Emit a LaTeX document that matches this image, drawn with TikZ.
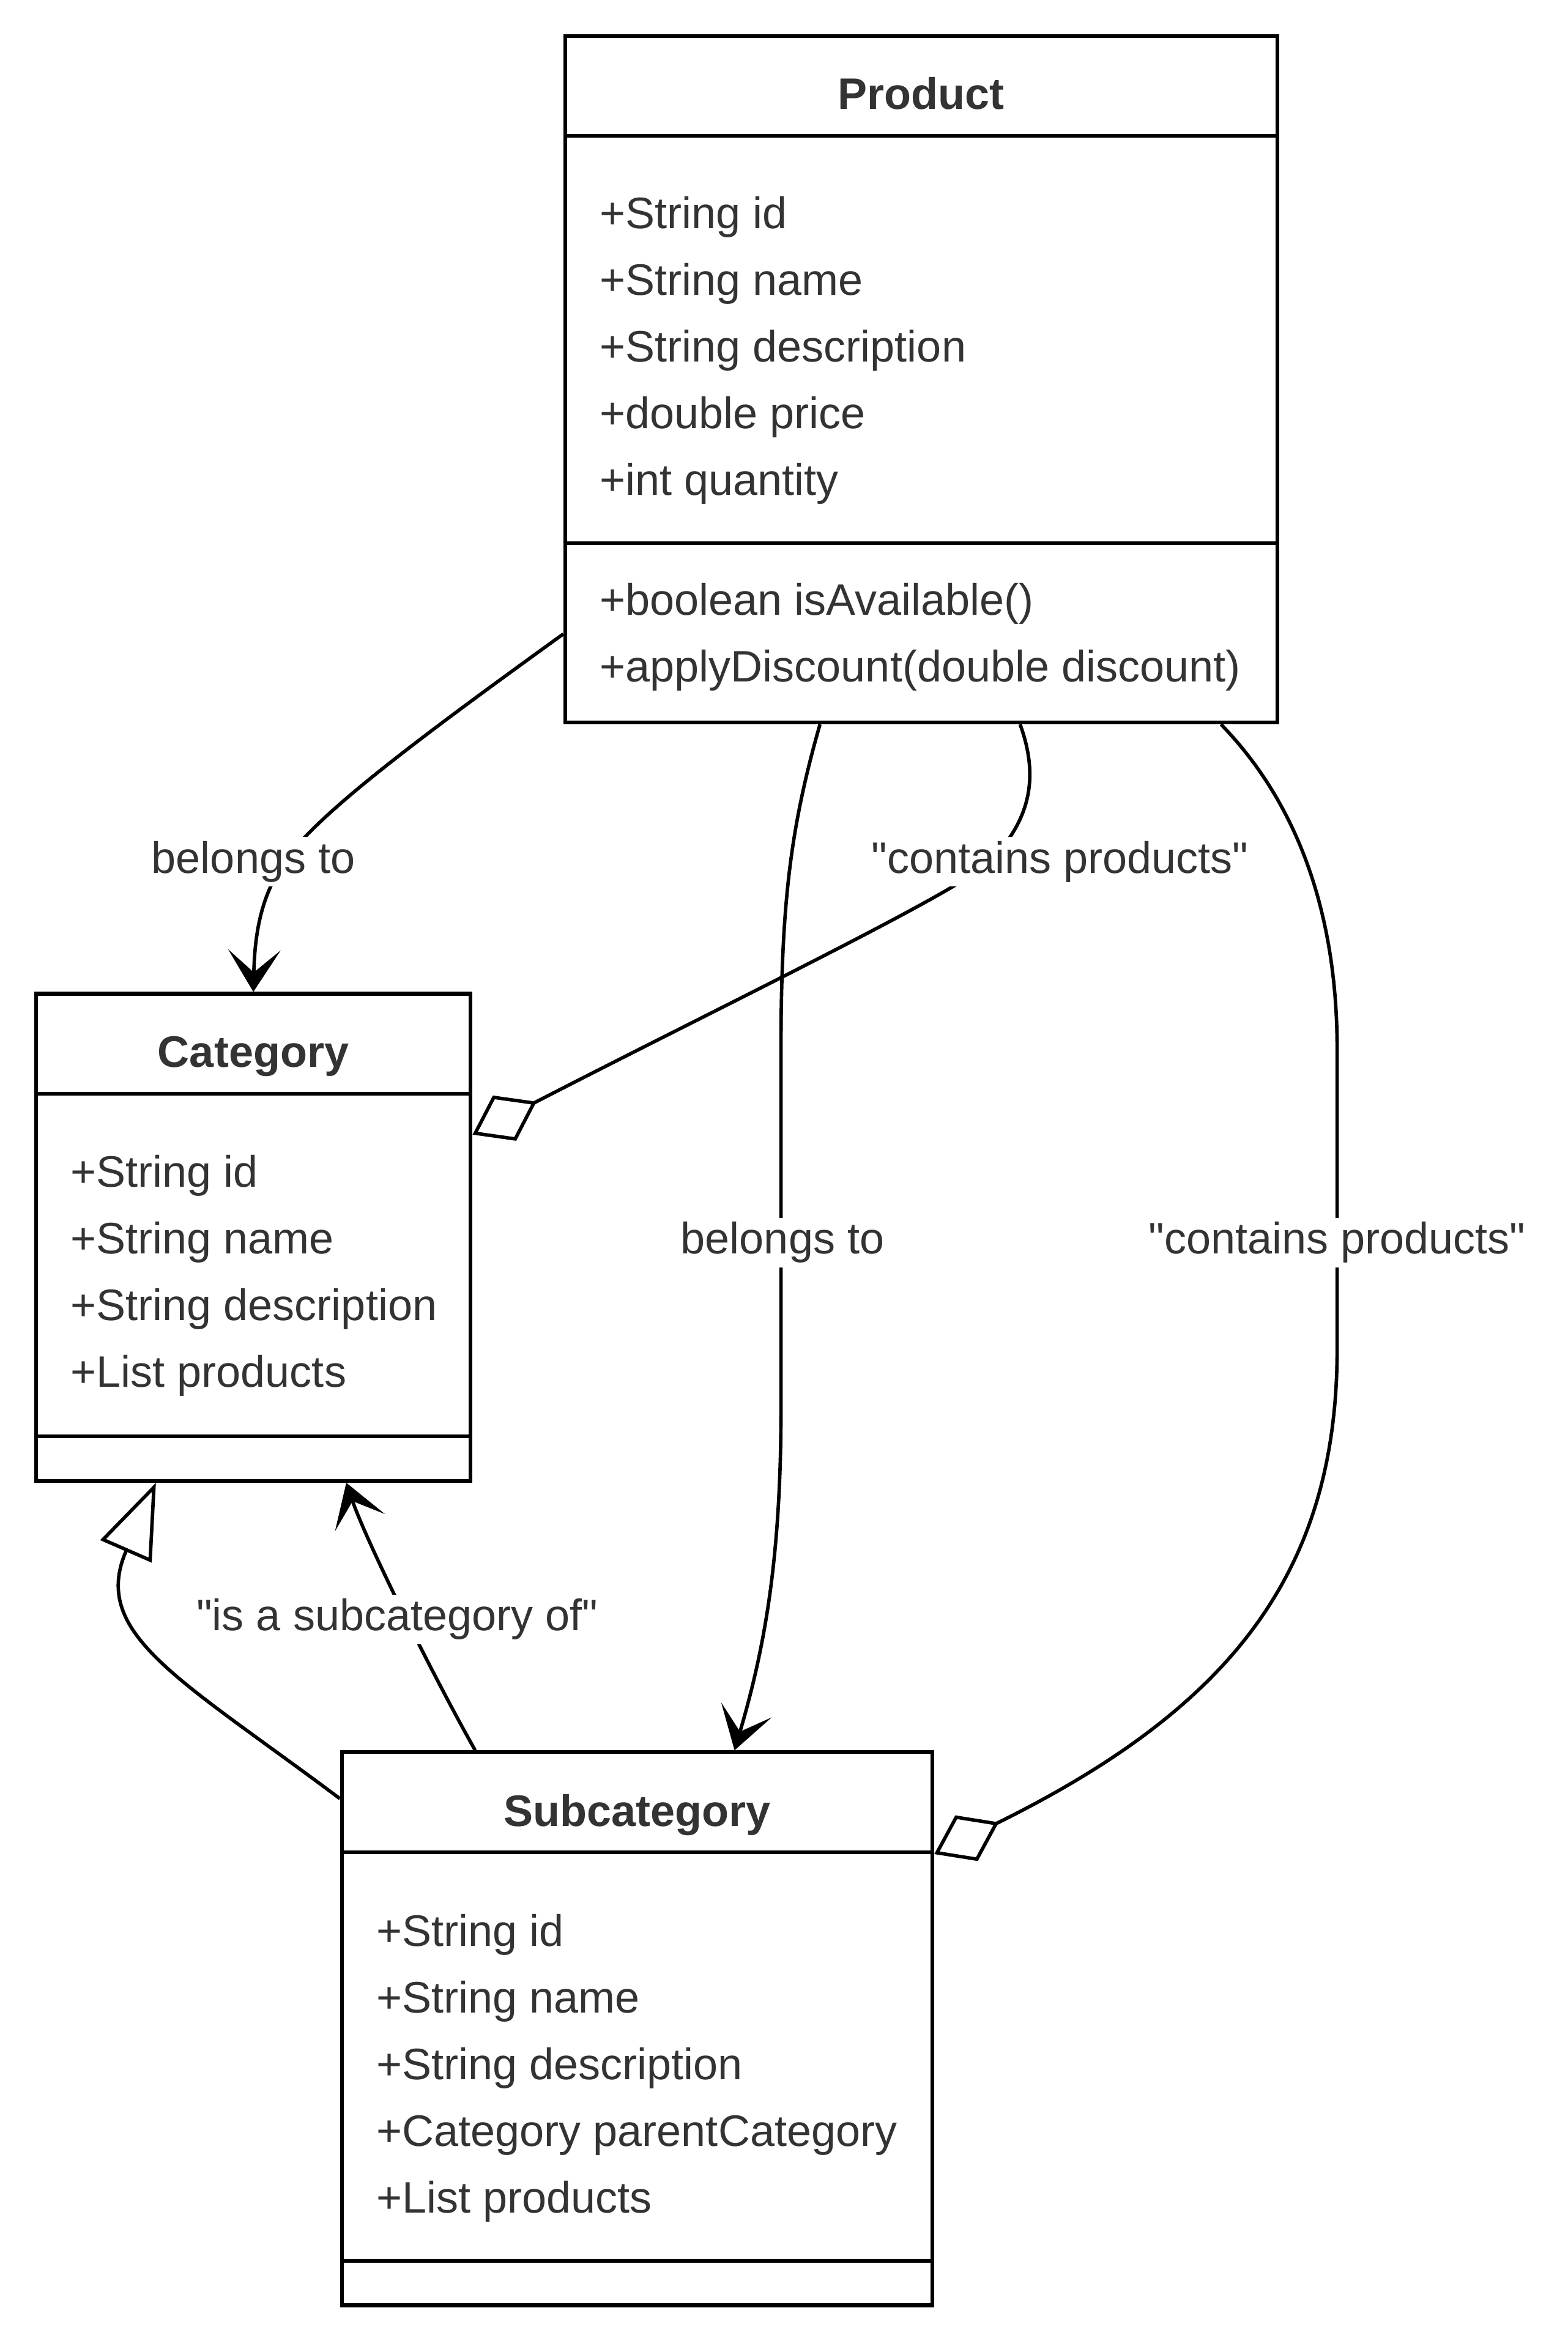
\documentclass[tikz,border=0pt]{standalone}
\usepackage{fontspec}
\setmainfont{Liberation Sans}
\usetikzlibrary{arrows.meta}
\definecolor{umltext}{HTML}{333333}
\colorlet{classbg}{white}
\newcommand{\umlfont}{\fontsize{29.4pt}{35pt}\selectfont}

\begin{document}
\begin{tikzpicture}[x=1pt,y=-1pt,
    classbox/.style={draw,line width=2.5pt,fill=classbg,inner sep=0pt},
    sep/.style={line width=2.5pt},
    member/.style={anchor=base west,inner sep=0pt,text=umltext,font=\umlfont},
    classname/.style={anchor=base,inner sep=0pt,text=umltext,font=\umlfont\bfseries},
    edge/.style={line width=2.3pt},
    lbl/.style={anchor=base,fill=white,inner xsep=2pt,inner ysep=3pt,
      text height=21pt,text depth=6pt,text=umltext,font=\umlfont},
    dependarrow/.style={-{Stealth[length=28pt,width=35pt,inset=15pt]}},
    aggarrow/.style={-{Diamond[fill=white,length=48pt,width=34pt]}},
    inheritarrow/.style={-{Triangle[fill=white,length=50pt,width=37pt]}}]
    \useasboundingbox (0,0) rectangle (1046,1567.2);
    % Classes
    \node[classbox,minimum width=475pt,minimum height=458pt] (product) at (614.5,253) {};
    \node[classbox,minimum width=290pt,minimum height=325pt] (category) at (169,825.5) {};
    \node[classbox,minimum width=394pt,minimum height=369pt] (subcategory) at (425,1353.5) {};
    \draw[sep] ([yshift=-68pt]product.north west) -- ([yshift=-68pt]product.north east);
    \draw[sep] ([yshift=121pt]product.south west) -- ([yshift=121pt]product.south east);
    \draw[sep] ([yshift=-68pt]category.north west) -- ([yshift=-68pt]category.north east);
    \draw[sep] ([yshift=31pt]category.south west) -- ([yshift=31pt]category.south east);
    \draw[sep] ([yshift=-68pt]subcategory.north west) -- ([yshift=-68pt]subcategory.north east);
    \draw[sep] ([yshift=31pt]subcategory.south west) -- ([yshift=31pt]subcategory.south east);
    % Members
    \node[classname] (pname) at (614.5,73) {Product};
    \node[member] (pa1) at (400,152.5) {+String id};
    \node[member] (pa2) at (400,197) {+String name};
    \node[member] (pa3) at (400,241.5) {+String description};
    \node[member] (pa4) at (400,286) {+double price};
    \node[member] (pa5) at (400,330.5) {+int quantity};
    \node[member] (pm1) at (400,410.5) {+boolean isAvailable()};
    \node[member] (pm2) at (400,455) {+applyDiscount(double discount)};
    \node[classname] (cname) at (169,712) {Category};
    \node[member] (ca1) at (47,792) {+String id};
    \node[member] (ca2) at (47,836.5) {+String name};
    \node[member] (ca3) at (47,881) {+String description};
    \node[member] (ca4) at (47,925.5) {+List products};
    \node[classname] (sname) at (425,1218.5) {Subcategory};
    \node[member] (sa1) at (251,1298.5) {+String id};
    \node[member] (sa2) at (251,1343) {+String name};
    \node[member] (sa3) at (251,1387.5) {+String description};
    \node[member] (sa4) at (251,1432) {+Category parentCategory};
    \node[member] (sa5) at (251,1476.5) {+List products};
    % Relations
    \draw[edge,dependarrow] ([yshift=-170pt]product.west)
      .. controls (290,485) and (215,540) .. (192,572)
      .. controls (175,595) and (170,620) .. (category.north);
    \draw[edge,dependarrow] ([xshift=-67.5pt]product.south)
      .. controls (528,550) and (521,600) .. (521,700) -- (521,940)
      .. controls (521,1040) and (510,1100) .. ([xshift=65pt]subcategory.north);
    \draw[edge,aggarrow] ([xshift=66pt]product.south)
      .. controls (692,515) and (690,545) .. (660,575)
      .. controls (640,595) and (480,672) .. ([yshift=68.5pt]category.east);
    \draw[edge,aggarrow] ([xshift=200pt]product.south)
      .. controls (860,530) and (892,600) .. (892,700) -- (892,900)
      .. controls (892,1050) and (820,1140) .. ([yshift=116.5pt]subcategory.east);
    \draw[edge,inheritarrow] ([yshift=153.5pt]subcategory.west)
      .. controls (120,1120) and (60,1090) .. ([xshift=-65pt]category.south);
    \draw[edge,dependarrow] ([xshift=-108pt]subcategory.north)
      .. controls (290,1120) and (245,1030) .. ([xshift=62pt]category.south);
    % Labels
    \node[lbl] (belongs1) at (169,582.5) {belongs to};
    \node[lbl] (contains1) at (707,582.5) {\textquotedbl contains products\textquotedbl};
    \node[lbl] (belongs2) at (522,836.5) {belongs to};
    \node[lbl] (contains2) at (892,836.5) {\textquotedbl contains products\textquotedbl};
    \node[lbl] (subof) at (265,1088) {\textquotedbl is a subcategory of\textquotedbl};
\end{tikzpicture}
\end{document}
